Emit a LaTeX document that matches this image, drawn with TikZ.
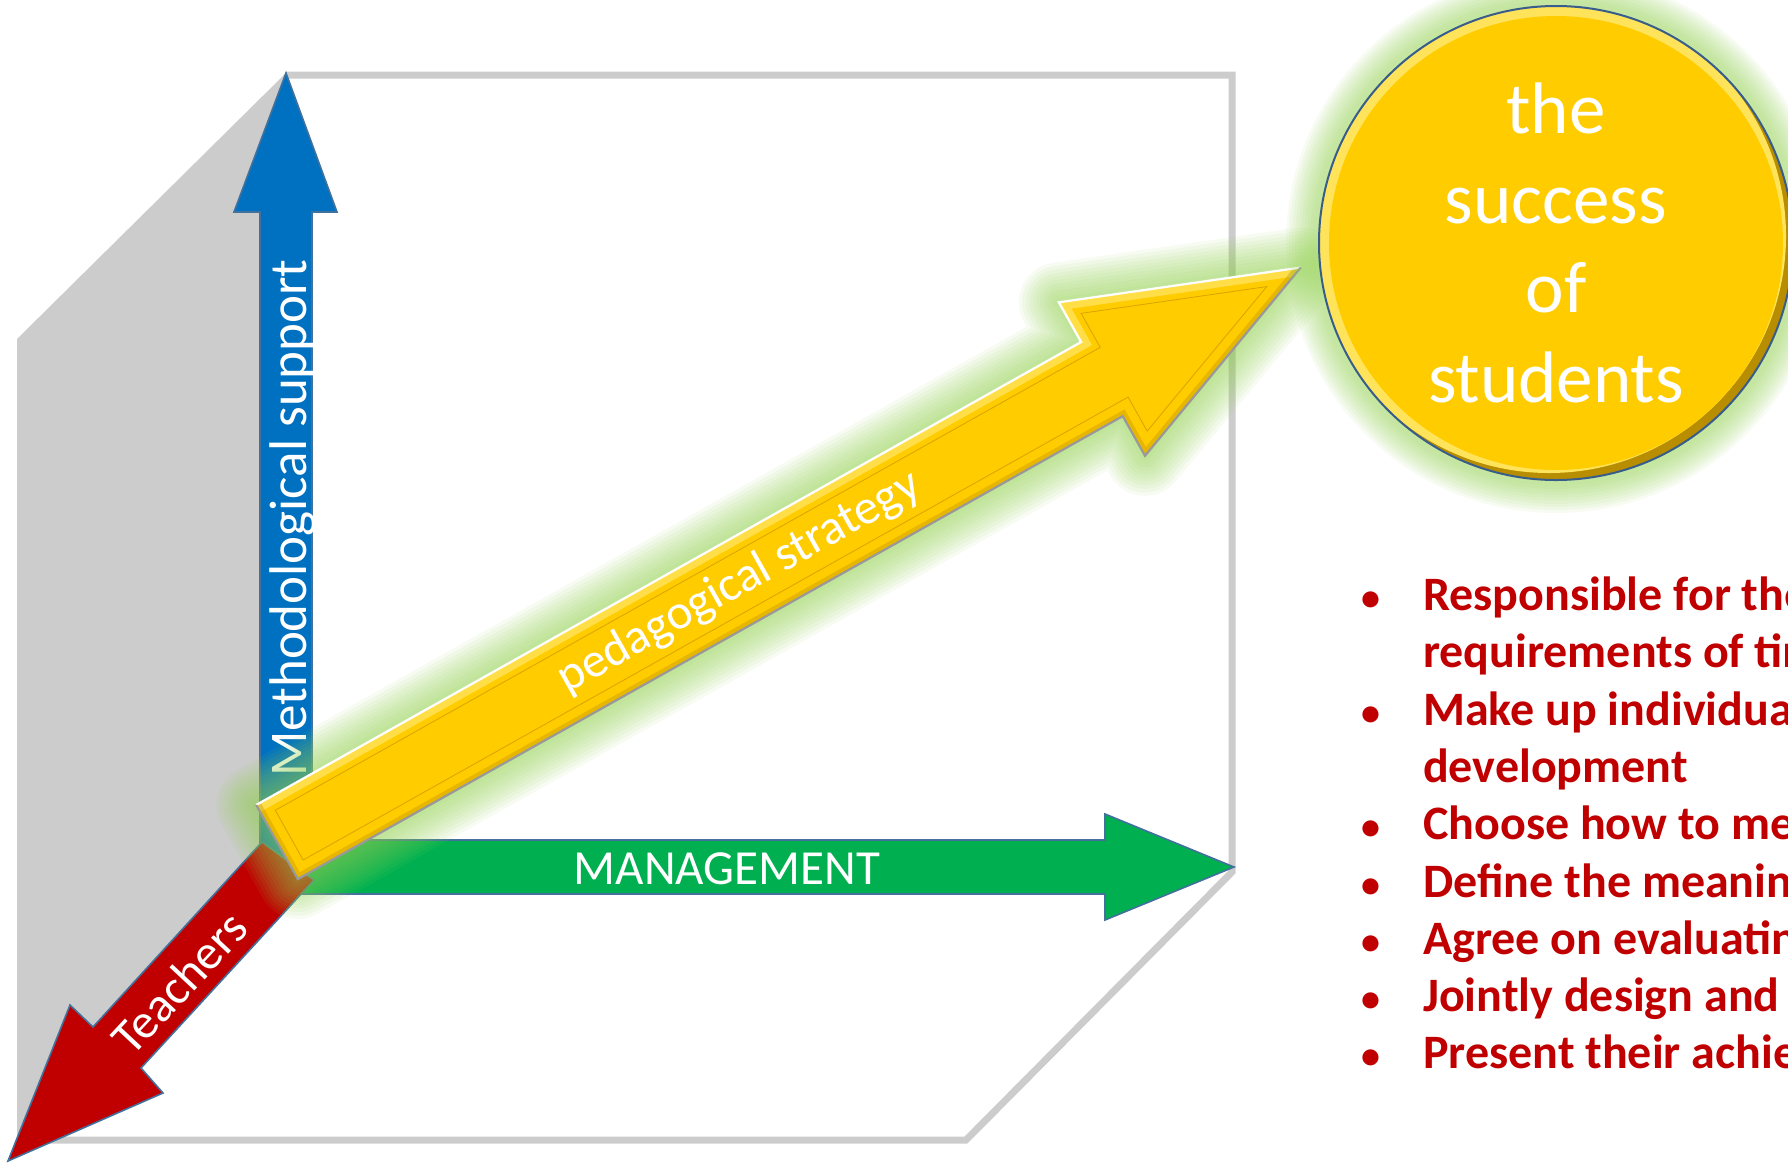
\documentclass[tikz,border=0pt]{standalone}
\usepackage{fontspec}
\setmainfont{Carlito}
\definecolor{cubegray}{HTML}{CCCCCC}
\definecolor{axisblue}{HTML}{0070C0}
\definecolor{axisgreen}{HTML}{00B050}
\definecolor{axisred}{HTML}{C00000}
\definecolor{edgeblue}{HTML}{41719C}
\definecolor{gold}{HTML}{FFCC00}
\definecolor{goldlight}{HTML}{FFE35A}
\definecolor{golddark}{HTML}{B88E00}
\definecolor{goldline}{HTML}{D9A400}
\definecolor{glowgreen}{HTML}{92D050}
\definecolor{circleedge}{HTML}{385D8A}
\definecolor{textred}{HTML}{C00000}
\begin{document}
\begin{tikzpicture}[x=1pt,y=-1pt,
  cubeline/.style={draw=cubegray,line width=7pt,line join=miter},
  axisfill/.style={draw=edgeblue,line width=1.6pt,line join=miter},
  axislabel/.style={text=white,inner sep=0pt,font=\fontsize{49}{58}\selectfont},
  glowline/.style={draw=glowgreen,line join=round,opacity=0.075},
  circletext/.style={text=white,inner sep=0pt,anchor=base,font=\fontsize{73}{88}\selectfont},
  listtext/.style={text=textred,inner sep=0pt,anchor=base west,font=\bfseries\fontsize{48}{57}\selectfont},
  bulletmark/.style={text=textred,inner sep=0pt,anchor=base,font=\bfseries\fontsize{38}{57}\selectfont}]

\useasboundingbox (0,0) rectangle (1788,1163);
\clip (0,0) rectangle (1788,1163);

% cube
\fill[cubegray] (17,339) -- (286,73) -- (286,872) -- (17,1140) -- cycle;
\draw[cubeline] (286,75) -- (1232,75) -- (1232,872) -- (966,1140) -- (17,1140);

% blue axis
\draw[axisfill,fill=axisblue] (260,868) -- (260,212) -- (234,212) -- (286,73) -- (337,212) -- (312,212) -- (312,868) -- cycle;
\node[axislabel,rotate=90,anchor=base,font=\fontsize{53}{60}\selectfont] (methlabel) at (306,518) {Methodological support};

% green axis
\draw[axisfill,fill=axisgreen] (286,840) -- (1105,840) -- (1105,814) -- (1234,867) -- (1105,920) -- (1105,894) -- (286,894) -- cycle;
\node[axislabel,anchor=base] (mgmt) at (727,884) {MANAGEMENT};

% red axis
\draw[axisfill,fill=axisred] (262,842) -- (93,1027) -- (70,1005) -- (8,1161) -- (163,1093) -- (141,1068) -- (314,880) -- cycle;
\node[axislabel,rotate=47] (teach) at (179,983) {Teachers};

% yellow arrow
\begin{scope}[shift={(277,842)},rotate=29.3]
  \path[save path=\yarrow] (0,-42.5) -- (946,-42.5) -- (946,-88) -- (1174,0) -- (946,88) -- (946,42.5) -- (0,42.5) -- cycle;
  \foreach \w in {80,73,66,59,52,45,38,31,24,17,10} {\draw[glowline,line width=\w pt,use path=\yarrow];}
  \fill[gold,use path=\yarrow];
  \begin{scope}
    \clip[use path=\yarrow];
    \draw[goldlight,line width=16pt,opacity=0.8,line join=miter] (0,-42.5) -- (946,-42.5) -- (946,-88) -- (1174,0);
    \draw[golddark,line width=10pt,opacity=0.35,line join=miter] (1174,0) -- (946,88) -- (946,42.5) -- (0,42.5) -- (0,-42.5);
  \end{scope}
  \draw[goldline,line width=0.8pt,line join=miter] (14,-28.5) -- (960,-28.5) -- (960,-67.5) -- (1135,0) -- (960,67.5) -- (960,28.5) -- (14,28.5) -- cycle;
  \draw[white,line width=2.2pt,line join=miter] (0,-42.5) -- (946,-42.5) -- (946,-88) -- (1174,0);
  \draw[gray!80,line width=2.2pt,line join=miter] (1174,0) -- (946,88) -- (946,42.5) -- (0,42.5) -- (0,-42.5);
  \node[axislabel,rotate=29.3] (peda) at (530,0) {pedagogical strategy};
\end{scope}

% goal circle
\foreach \w in {66,60,54,48,42,36,30,24,18,12} {\draw[glowline,line width=\w pt] (1556,243) circle[radius=237];}
\begin{scope}
  \clip (1556,243) circle[radius=237];
  \fill[golddark] (1556,243) circle[radius=237];
  \fill[goldlight] (1549,236) circle[radius=237];
  \fill[gold] (1556,243) circle[radius=227];
\end{scope}
\draw[circleedge,line width=2pt] (1556,243) circle[radius=237];
\node[circletext] (c1) at (1556,133) {the};
\node[circletext] (c2) at (1556,223) {success};
\node[circletext] (c3) at (1556,312) {of};
\node[circletext] (c4) at (1556,402) {students};

% list
\node[bulletmark] (m1) at (1371,610) {•};
\node[listtext] (l1) at (1423,610) {Responsible for the};
\node[listtext] (l2) at (1423,667) {requirements of time};
\node[bulletmark] (m3) at (1371,725) {•};
\node[listtext] (l3) at (1423,725) {Make up individual};
\node[listtext] (l4) at (1423,782) {development};
\node[bulletmark] (m5) at (1371,839) {•};
\node[listtext] (l5) at (1423,839) {Choose how to meet};
\node[bulletmark] (m6) at (1371,897) {•};
\node[listtext] (l6) at (1423,897) {Define the meaning};
\node[bulletmark] (m7) at (1371,954) {•};
\node[listtext] (l7) at (1423,954) {Agree on evaluating};
\node[bulletmark] (m8) at (1371,1011) {•};
\node[listtext] (l8) at (1423,1011) {Jointly design and};
\node[bulletmark] (m9) at (1371,1068) {•};
\node[listtext] (l9) at (1423,1068) {Present their achievements};
\end{tikzpicture}
\end{document}
